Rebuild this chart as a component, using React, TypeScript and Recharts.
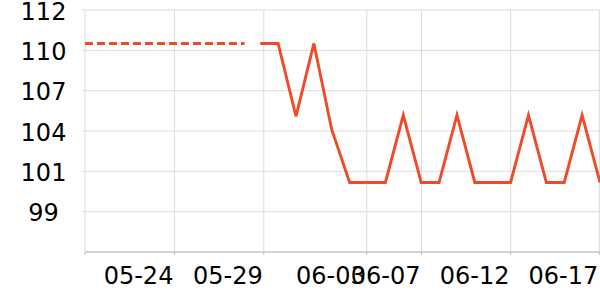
import { LineChart, Line, XAxis, YAxis, CartesianGrid } from 'recharts';

// x is a day number; the solid series has one point per day (days 10..29)
const solidDays = [10, 11, 12, 13, 14, 15, 16, 17, 18, 19, 20, 21, 22, 23, 24, 25, 26, 27, 28, 29];
const solidValues = [
  110.12, 110.12, 105.15, 110.12, 104.24, 100.64, 100.64, 100.64, 105.23, 100.64,
  100.64, 105.23, 100.64, 100.64, 100.64, 105.23, 100.64, 100.64, 105.23, 100.64,
];

const dashedDays = [0.2, 9.12];
const dashedValues = [110.12, 110.12];

const xTicks = [0.2, 5.2, 10.2, 15.96, 19.02, 24, 28.96];
const xTickLabels = ['', '05-24', '05-29', '06-03', '06-07', '06-12', '06-17'];

const yTicks = [112.4, 109.65, 106.9, 104.15, 101.4, 98.65];
const yDomain = [95.9, 112.4];

const LINE_COLOR = '#ef4a2a';
const FONT = '"DejaVu Sans", sans-serif';

const solidData = solidDays.map((d, i) => ({ day: d, value: solidValues[i] }));
const dashedData = dashedDays.map((d, i) => ({ day: d, value: dashedValues[i] }));

interface TickProps {
  x?: number;
  y?: number;
  payload?: { value: number };
}

const XTick = ({ x, y, payload }: TickProps) => {
  if (x == null || y == null || !payload) return null;
  const idx = xTicks.indexOf(payload.value);
  const label = idx >= 0 ? xTickLabels[idx] : '';
  return (
    <text x={x - 1} y={y} dy={27} textAnchor="end" fill="#000" fontSize={24} fontFamily={FONT}>
      {label}
    </text>
  );
};

const YTick = ({ y, payload }: TickProps) => {
  if (y == null || !payload) return null;
  return (
    <text x={43.5} y={y + 9.5} textAnchor="middle" fill="#000" fontSize={24} fontFamily={FONT}>
      {Math.round(payload.value)}
    </text>
  );
};

export default function App() {
  return (
    <div style={{ position: 'absolute', left: 0, top: 0, width: 600, height: 300 }}>
      <LineChart width={600} height={300} margin={{ top: 10, right: 0, bottom: 0, left: 0 }}>
        <CartesianGrid stroke="#dddddd" />
        <XAxis
          dataKey="day"
          type="number"
          domain={[0.2, 29]}
          ticks={xTicks}
          tick={<XTick />}
          tickSize={3}
          height={48}
          stroke="#bbbbbb"
          interval={0}
          allowDataOverflow
        />
        <YAxis
          type="number"
          domain={yDomain}
          ticks={yTicks}
          tick={<YTick />}
          tickSize={3}
          width={85}
          axisLine={false}
          stroke="#dddddd"
          interval={0}
          allowDataOverflow
        />
        <Line
          data={dashedData}
          dataKey="value"
          type="linear"
          stroke={LINE_COLOR}
          strokeWidth={2.9}
          strokeDasharray="8 4"
          dot={false}
          activeDot={false}
          isAnimationActive={false}
        />
        <Line
          data={solidData}
          dataKey="value"
          type="linear"
          stroke={LINE_COLOR}
          strokeWidth={2.9}
          dot={false}
          activeDot={false}
          isAnimationActive={false}
        />
      </LineChart>
    </div>
  );
}
